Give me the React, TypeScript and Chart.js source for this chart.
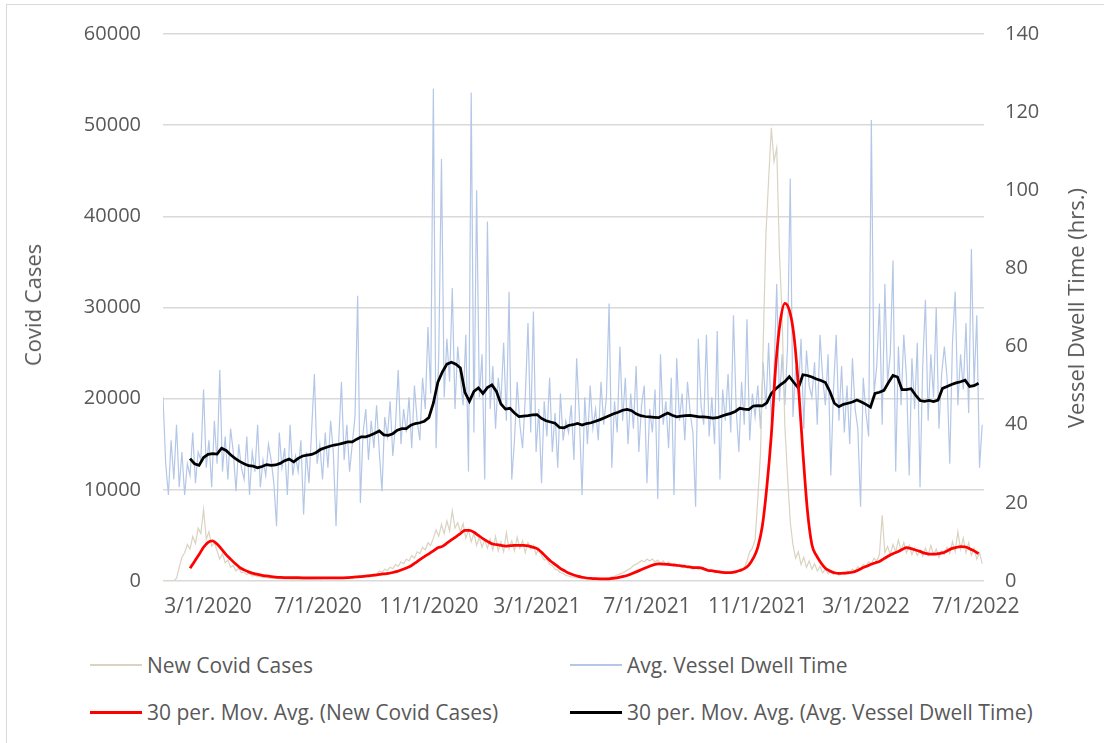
import React, { useEffect, useRef } from "react";
import { Chart, registerables } from "chart.js";

Chart.register(...registerables);

const FONT = "'Open Sans', 'Noto Sans', sans-serif";
const TEXT = "#595959";

// Axis range and tick labels (dates, m/d/yyyy)
const xAxisStart = "1/11/2020";
const xAxisEnd = "7/10/2022";
const xTickLabels = ["3/1/2020", "7/1/2020", "11/1/2020", "3/1/2021", "7/1/2021", "11/1/2021", "3/1/2022", "7/1/2022"];

// Daily series are sampled every 3 days starting at dailyStart
const dailyStart = "1/11/2020";
const dailyStepDays = 3;
// Moving averages sampled every 5 days starting at movAvgStart
const movAvgStart = "2/10/2020";
const movAvgStepDays = 5;

const newCovidCases = [
  0, 0, 0, 0, 0, 300, 1500, 2600, 3100, 4000,
  3500, 4900, 4100, 5800, 5200, 7850, 4600, 5400, 3800, 4200,
  3300, 2400, 3000, 2000, 2300, 1500, 1700, 1100, 1400, 900,
  1000, 700, 850, 550, 650, 450, 500, 380, 420, 320,
  350, 280, 300, 250, 270, 230, 260, 210, 240, 200,
  230, 190, 220, 200, 240, 210, 260, 230, 280, 250,
  300, 270, 330, 290, 360, 310, 400, 350, 430, 380,
  470, 420, 520, 480, 600, 540, 680, 620, 780, 720,
  1100, 950, 1300, 1150, 1500, 1350, 1800, 1600, 2100, 1900,
  2400, 2200, 2800, 2500, 3200, 3000, 3700, 3400, 4200, 3900,
  4700, 5600, 4900, 6200, 5200, 6600, 5500, 7700, 5800, 6400,
  5400, 6300, 4700, 5600, 4300, 5200, 3900, 4800, 3700, 4500,
  3600, 4600, 3400, 4900, 3300, 4300, 3200, 5300, 3500, 4400,
  3300, 4800, 3600, 4400, 3100, 4200, 3500, 3900, 2900, 3600,
  2800, 2300, 2400, 1800, 1700, 1300, 1200, 900, 850, 600,
  550, 450, 420, 350, 330, 280, 260, 230, 220, 200,
  200, 190, 220, 240, 300, 350, 450, 520, 650, 780,
  900, 1050, 1250, 1400, 1700, 1850, 2000, 2250, 2100, 2400,
  2200, 2400, 2100, 2300, 1900, 2200, 1800, 2100, 1700, 1950,
  1600, 1850, 1500, 1750, 1400, 1650, 1300, 1550, 1250, 1450,
  1150, 1300, 1000, 1200, 900, 1100, 850, 1000, 800, 950,
  850, 1000, 900, 1100, 1050, 1400, 2200, 3200, 3600, 4500,
  9000, 14000, 26000, 38000, 44000, 49700, 46000, 47500, 36000, 29000,
  17000, 11500, 6500, 4000, 2500, 3200, 1800, 2600, 1500, 2200,
  1300, 1900, 1100, 1600, 900, 1300, 800, 1100, 700, 950,
  650, 900, 700, 1100, 900, 1300, 1100, 1600, 1300, 1800,
  1600, 2100, 1900, 2500, 2200, 2900, 7200, 3100, 3800, 2900,
  4000, 3200, 4500, 3300, 4200, 3100, 3900, 2900, 3600, 2800,
  3400, 2700, 3600, 2800, 3900, 2900, 3500, 2600, 3300, 2900,
  3700, 3000, 4300, 3200, 5400, 3500, 4700, 3100, 4200, 2800,
  3600, 2400, 3100, 1900,
];

const avgVesselDwellTime = [
  47, 30, 22, 36, 26, 40, 24, 33, 22, 30,
  27, 38, 25, 33, 31, 49, 29, 36, 24, 41,
  30, 54, 28, 37, 26, 39, 33, 23, 35, 29,
  26, 37, 22, 33, 28, 40, 24, 31, 27, 35,
  31, 25, 14, 38, 29, 34, 22, 40, 27, 32,
  28, 36, 17, 33, 25, 39, 53, 30, 35, 26,
  38, 29, 41, 33, 14, 36, 51, 31, 40, 28,
  35, 42, 73, 20, 38, 44, 31, 41, 34, 45,
  33, 23, 42, 37, 46, 32, 40, 54, 35, 44,
  38, 47, 34, 50, 41, 36, 52, 44, 65, 48,
  126, 34, 58, 108, 47, 62, 51, 75, 44, 60,
  52, 45, 63, 28, 125, 38, 100, 47, 58, 26,
  92, 44, 55, 39, 52, 46, 61, 41, 74, 26,
  36, 51, 40, 34, 47, 66, 38, 69, 33, 44,
  25, 46, 37, 52, 33, 43, 29, 48, 36, 41,
  38, 45, 31, 57, 42, 22, 47, 35, 50, 39,
  44, 36, 51, 40, 47, 71, 29, 46, 38, 60,
  41, 52, 35, 48, 39, 55, 33, 45, 50, 25,
  44, 38, 49, 21, 58, 40, 46, 34, 52, 22,
  57, 41, 48, 36, 51, 43, 38, 19, 62, 45,
  40, 63, 37, 47, 35, 64, 26, 49, 41, 53,
  38, 68, 44, 33, 51, 40, 67, 36, 48, 42,
  50, 39, 56, 44, 61, 41, 53, 76, 46, 58,
  45, 60, 103, 42, 55, 48, 62, 39, 59, 50,
  47, 56, 40, 63, 52, 45, 58, 27, 49, 63,
  41, 55, 38, 50, 35, 57, 44, 39, 19, 52,
  43, 37, 118, 48, 55, 71, 40, 76, 51, 58,
  82, 28, 60, 45, 63, 52, 27, 57, 44, 61,
  24, 55, 72, 41, 58, 47, 70, 39, 53, 60,
  52, 30, 61, 74, 45, 58, 49, 66, 43, 85,
  50, 68, 29, 40,
];

const covidMovAvg = [
  1390, 2150, 2900, 3700, 4250, 4400, 4050, 3500, 2900, 2400,
  1920, 1500, 1220, 1000, 840, 720, 620, 550, 480, 430,
  400, 380, 370, 365, 360, 355, 350, 340, 335, 330,
  330, 330, 330, 330, 340, 360, 400, 440, 490, 540,
  590, 650, 720, 770, 830, 930, 1060, 1230, 1420, 1650,
  1990, 2350, 2680, 2980, 3300, 3650, 3800, 4150, 4500, 4850,
  5200, 5550, 5550, 5350, 5000, 4650, 4350, 4080, 3980, 3900,
  3830, 3870, 3910, 3920, 3910, 3850, 3720, 3550, 3150, 2660,
  2200, 1830, 1450, 1150, 870, 680, 540, 410, 330, 280,
  250, 230, 220, 240, 300, 370, 480, 610, 800, 1000,
  1210, 1420, 1620, 1800, 1870, 1860, 1830, 1780, 1720, 1660,
  1590, 1530, 1470, 1480, 1350, 1150, 1120, 1020, 950, 910,
  920, 1000, 1150, 1350, 1750, 2500, 3700, 6000, 10300, 16000,
  23700, 28500, 30450, 29700, 27000, 21500, 14200, 7800, 4000, 2800,
  2000, 1390, 1100, 900, 840, 860, 900, 960, 1120, 1380,
  1580, 1800, 1980, 2150, 2450, 2750, 3000, 3200, 3450, 3650,
  3560, 3400, 3250, 3050, 2960, 2950, 3000, 3080, 3300, 3550,
  3680, 3760, 3750, 3550, 3300, 3000,
];

const dwellMovAvg = [
  31.3, 30.0, 29.6, 31.6, 32.4, 32.6, 32.5, 34.0, 33.4, 32.3,
  31.4, 30.6, 30.0, 29.5, 29.4, 29.0, 29.3, 29.8, 29.6, 29.7,
  30.1, 30.8, 31.2, 30.5, 31.4, 32.0, 32.2, 32.4, 32.9, 33.7,
  34.1, 34.5, 34.8, 35.0, 35.3, 35.6, 35.6, 36.3, 36.9, 36.9,
  37.3, 37.8, 38.4, 37.4, 37.3, 37.7, 38.6, 39.0, 39.0, 39.9,
  40.3, 40.5, 40.9, 41.8, 45.5, 50.9, 53.5, 55.5, 56.0, 55.5,
  54.5, 48.3, 46.0, 48.5, 49.4, 48.0, 49.5, 50.2, 48.5, 45.3,
  44.0, 44.2, 43.0, 42.1, 42.2, 42.3, 42.5, 42.6, 41.6, 41.0,
  40.7, 40.4, 39.3, 39.2, 39.8, 40.0, 40.3, 39.9, 40.3, 40.5,
  40.9, 41.3, 41.8, 42.3, 42.8, 43.2, 43.7, 43.9, 43.6, 42.8,
  42.3, 42.1, 42.0, 41.9, 41.8, 42.4, 43.0, 42.4, 42.0, 42.2,
  42.3, 42.4, 42.2, 42.0, 42.0, 41.9, 41.7, 41.8, 42.2, 42.6,
  42.9, 43.4, 44.2, 44.0, 43.9, 44.8, 44.9, 44.8, 45.6, 48.0,
  49.2, 50.2, 51.0, 52.3, 50.8, 49.4, 52.8, 52.6, 52.2, 51.7,
  51.3, 50.8, 48.5, 45.5, 44.6, 45.2, 45.5, 45.8, 46.3, 45.8,
  45.2, 44.5, 48.0, 48.3, 48.8, 50.8, 52.6, 52.2, 49.0, 49.0,
  49.2, 47.6, 46.2, 46.0, 46.2, 45.9, 46.3, 49.3, 49.8, 50.3,
  50.7, 51.0, 51.4, 49.8, 50.0, 50.6,
];

const seriesNames = [
  "New Covid Cases",
  "Avg. Vessel Dwell Time",
  "30 per. Mov. Avg. (New Covid Cases)",
  "30 per. Mov. Avg. (Avg. Vessel Dwell Time)",
];
const seriesColors = ["#d9d3c1", "#b4c7e7", "#ff0000", "#000000"];
const leftTitle = "Covid Cases";
const rightTitle = "Vessel Dwell Time (hrs.)";

function dayOf(s: string): number {
  const [m, d, y] = s.split("/").map(Number);
  return (Date.UTC(y, m - 1, d) - Date.UTC(2020, 0, 1)) / 86400000;
}

function toPoints(values: number[], start: string, step: number) {
  const s = dayOf(start);
  return values.map((v, i) => ({ x: s + i * step, y: v }));
}

function ChartCanvas() {
  const ref = useRef<HTMLCanvasElement | null>(null);
  useEffect(() => {
    if (!ref.current) return;
    const tickDays = xTickLabels.map(dayOf);
    const font = { family: FONT, size: 20 };
    const chart = new Chart(ref.current, {
      type: "line",
      data: {
        datasets: [
          {
            label: seriesNames[1],
            data: toPoints(avgVesselDwellTime, dailyStart, dailyStepDays),
            borderColor: seriesColors[1],
            borderWidth: 1.2,
            pointRadius: 0,
            tension: 0,
            yAxisID: "y1",
            order: 4,
          },
          {
            label: seriesNames[0],
            data: toPoints(newCovidCases, dailyStart, dailyStepDays),
            borderColor: seriesColors[0],
            borderWidth: 1.2,
            pointRadius: 0,
            tension: 0,
            yAxisID: "y",
            order: 3,
          },
          {
            label: seriesNames[3],
            data: toPoints(dwellMovAvg, movAvgStart, movAvgStepDays),
            borderColor: seriesColors[3],
            borderWidth: 2.75,
            pointRadius: 0,
            tension: 0,
            yAxisID: "y1",
            order: 2,
          },
          {
            label: seriesNames[2],
            data: toPoints(covidMovAvg, movAvgStart, movAvgStepDays),
            borderColor: seriesColors[2],
            borderWidth: 2.75,
            pointRadius: 0,
            cubicInterpolationMode: "monotone",
            yAxisID: "y",
            order: 1,
          },
        ],
      },
      options: {
        animation: false,
        responsive: false,
        devicePixelRatio: 1,
        layout: { padding: { top: 33, left: 0, right: 0, bottom: 0 } },
        plugins: { legend: { display: false }, tooltip: { enabled: false }, title: { display: false } },
        scales: {
          x: {
            type: "linear",
            min: dayOf(xAxisStart),
            max: dayOf(xAxisEnd),
            afterBuildTicks: (s: any) => {
              s.ticks = tickDays.map((v) => ({ value: v }));
            },
            afterFit: (s: any) => {
              s.height = 59;
            },
            ticks: {
              autoSkip: false,
              maxRotation: 0,
              minRotation: 0,
              padding: 13,
              color: TEXT,
              font: { family: FONT, size: 21 },
              callback: (v: any) => {
                const i = tickDays.indexOf(Number(v));
                return i >= 0 ? xTickLabels[i] : "";
              },
            },
            grid: { display: false, drawTicks: false },
            border: { display: false },
          },
          y: {
            position: "left",
            min: 0,
            max: 60000,
            afterFit: (s: any) => {
              s.width = 163;
            },
            ticks: { stepSize: 10000, padding: 22, color: TEXT, font, callback: (v: any) => String(v) },
            grid: { color: "#d9d9d9", lineWidth: 1.5, drawTicks: false },
            border: { display: false },
          },
          y1: {
            position: "right",
            min: 0,
            max: 140,
            afterFit: (s: any) => {
              s.width = 120;
            },
            ticks: { stepSize: 20, padding: 21, color: TEXT, font, callback: (v: any) => String(v) },
            grid: { display: false, drawTicks: false },
            border: { display: false },
          },
        },
      },
    } as any);
    return () => chart.destroy();
  }, []);
  return (
    <canvas
      ref={ref}
      width={1104}
      height={640}
      style={{ position: "absolute", left: 0, top: 0, width: 1104, height: 640 }}
    />
  );
}

const textStyle: React.CSSProperties = {
  fontFamily: FONT,
  fontSize: 21,
  color: TEXT,
  whiteSpace: "nowrap",
  lineHeight: "26px",
};

function LegendItem({ x, y, color, thick, label }: { x: number; y: number; color: string; thick: number; label: string }) {
  return (
    <div style={{ position: "absolute", left: x, top: y - 13, height: 26, display: "flex", alignItems: "center" }}>
      <span style={{ display: "inline-block", width: 52, height: thick, background: color }} />
      <span style={{ ...textStyle, marginLeft: 5 }}>{label}</span>
    </div>
  );
}

function RotatedTitle({ cx, cy, text }: { cx: number; cy: number; text: string }) {
  return (
    <div
      style={{
        ...textStyle,
        fontSize: 22,
        position: "absolute",
        left: cx,
        top: cy,
        transform: "translate(-50%, -50%) rotate(-90deg)",
      }}
    >
      {text}
    </div>
  );
}

export default function App() {
  return (
    <div
      style={{
        position: "absolute",
        left: 0,
        top: 0,
        width: 1104,
        height: 743,
        overflow: "hidden",
        background: "#ffffff",
      }}
    >
      <div
        style={{
          position: "absolute",
          left: 6,
          top: 4,
          width: 1110,
          height: 760,
          border: "1px solid #d9d9d9",
          boxSizing: "border-box",
        }}
      />
      <ChartCanvas />
      <RotatedTitle cx={32} cy={305} text={leftTitle} />
      <RotatedTitle cx={1075} cy={308} text={rightTitle} />
      <LegendItem x={90} y={665} color={seriesColors[0]} thick={2} label={seriesNames[0]} />
      <LegendItem x={570} y={665} color={seriesColors[1]} thick={2} label={seriesNames[1]} />
      <LegendItem x={90} y={712} color={seriesColors[2]} thick={3} label={seriesNames[2]} />
      <LegendItem x={570} y={712} color={seriesColors[3]} thick={3} label={seriesNames[3]} />
    </div>
  );
}
